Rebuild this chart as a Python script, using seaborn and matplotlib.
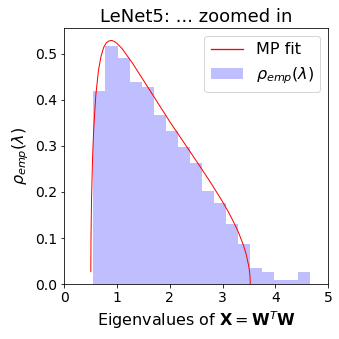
import numpy as np
import pandas as pd
import matplotlib
matplotlib.use("Agg")
import matplotlib.pyplot as plt
import seaborn as sns
from matplotlib.lines import Line2D
from matplotlib.patches import Patch

# histogram: 18 bins between the smallest and largest eigenvalue
lam_min = 0.556
lam_max = 4.663
n_bins = 18
rho_emp = [0.420, 0.518, 0.491, 0.438, 0.428, 0.368, 0.333, 0.298, 0.264,
           0.202, 0.176, 0.130, 0.087, 0.035, 0.026, 0.009, 0.009, 0.026]

# MP fit curve
mp_x = [0.506, 0.51, 0.52, 0.54, 0.56, 0.60, 0.65, 0.70, 0.75, 0.80, 0.85, 0.90,
        0.95, 1.0, 1.1, 1.2, 1.3, 1.4, 1.5, 1.6, 1.8, 2.0, 2.2, 2.4, 2.6, 2.8,
        3.0, 3.1, 3.2, 3.3, 3.4, 3.45, 3.5, 3.52, 3.526]
mp_y = [0.027, 0.101, 0.185, 0.276, 0.334, 0.409, 0.463, 0.495, 0.514, 0.524,
        0.528, 0.529, 0.527, 0.523, 0.511, 0.495, 0.479, 0.461, 0.443, 0.425,
        0.389, 0.353, 0.319, 0.285, 0.251, 0.216, 0.179, 0.159, 0.137, 0.113,
        0.083, 0.064, 0.037, 0.018, 0.0]

edges = np.linspace(lam_min, lam_max, n_bins + 1)
centers = (edges[:-1] + edges[1:]) / 2
df = pd.DataFrame({"lam": centers, "rho": rho_emp})
mp = pd.DataFrame({"x": mp_x, "y": mp_y})

fig = plt.figure(figsize=(339 / 72, 339 / 72), dpi=72)
ax = fig.add_axes([0.189, 0.162, 0.779, 0.756])

sns.histplot(data=df, x="lam", weights="rho", bins=edges.tolist(), stat="count",
             color="blue", alpha=0.25, linewidth=0, ax=ax)
sns.lineplot(data=mp, x="x", y="y", color="red", linewidth=1, estimator=None,
             sort=False, ax=ax)

ax.set_xlim(0, 5)
ax.set_ylim(0, 0.5565)
ax.set_xticks([0, 1, 2, 3, 4, 5])
ax.tick_params(labelsize=14)
ax.set_title("LeNet5: ... zoomed in", fontsize=18)
ax.set_xlabel(r"Eigenvalues of $\mathbf{X}=\mathbf{W}^T\mathbf{W}$", fontsize=16)
ax.set_ylabel(r"$\rho_{emp}(\lambda)$", fontsize=16)

handles = [Line2D([0], [0], color="red", linewidth=1.3),
           Patch(facecolor="blue", alpha=0.25, linewidth=0)]
ax.legend(handles, ["MP fit", r"$\rho_{emp}(\lambda)$"], loc="upper right", fontsize=16)

fig.savefig("out.png", dpi=72)
